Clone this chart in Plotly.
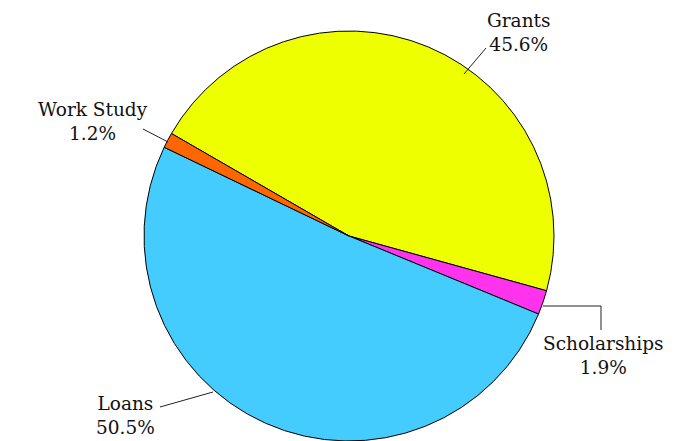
import plotly.graph_objects as go

# ---- data ----
labels = ["Grants", "Scholarships", "Loans", "Work Study"]
values = [45.6, 1.9, 50.5, 1.2]

# ---- style / layout ----
colors = ["#EEFF00", "#FF33EE", "#44CCFF", "#FF6600"]
W, H = 679, 441
FONT = "DejaVu Serif"
FS = 18.5

# label centre in pixels, and leader line polyline in pixels
label_centres = [(519, 32), (603, 355), (125, 415), (93, 121)]
leaders = [
    [(464, 74), (486, 48)],
    [(543, 306), (601, 306), (601, 330)],
    [(213, 392), (160, 407)],
    [(168, 142), (143, 129)],
]


def px(x):
    return x / W


def py(y):
    return 1 - y / H


fig = go.Figure()
fig.add_trace(go.Pie(
    labels=labels,
    values=values,
    sort=False,
    direction="clockwise",
    rotation=-60,
    marker=dict(colors=colors, line=dict(color="black", width=1)),
    textinfo="none",
    hoverinfo="none",
    showlegend=False,
    domain=dict(x=[px(349 - 206), px(349 + 206)], y=[0, py(31)]),
))

annotations = []
for lab, val, (cx, cy) in zip(labels, values, label_centres):
    annotations.append(dict(
        x=px(cx), y=py(cy), xref="paper", yref="paper",
        text=f"{lab}<br>{val:.1f}%", showarrow=False,
        font=dict(family=FONT, size=FS, color="#111111"),
        xanchor="center", yanchor="middle", align="center",
    ))

shapes = []
for pts in leaders:
    for (x0, y0), (x1, y1) in zip(pts[:-1], pts[1:]):
        shapes.append(dict(
            type="line", xref="paper", yref="paper",
            x0=px(x0), y0=py(y0), x1=px(x1), y1=py(y1),
            line=dict(color="#222222", width=1),
        ))

fig.update_layout(
    width=W, height=H,
    margin=dict(l=0, r=0, t=0, b=0),
    paper_bgcolor="white",
    plot_bgcolor="white",
    annotations=annotations,
    shapes=shapes,
)

fig.write_html(
    "out.html",
    config={"displayModeBar": False},
    post_script="document.body.style.margin='0';",
)
